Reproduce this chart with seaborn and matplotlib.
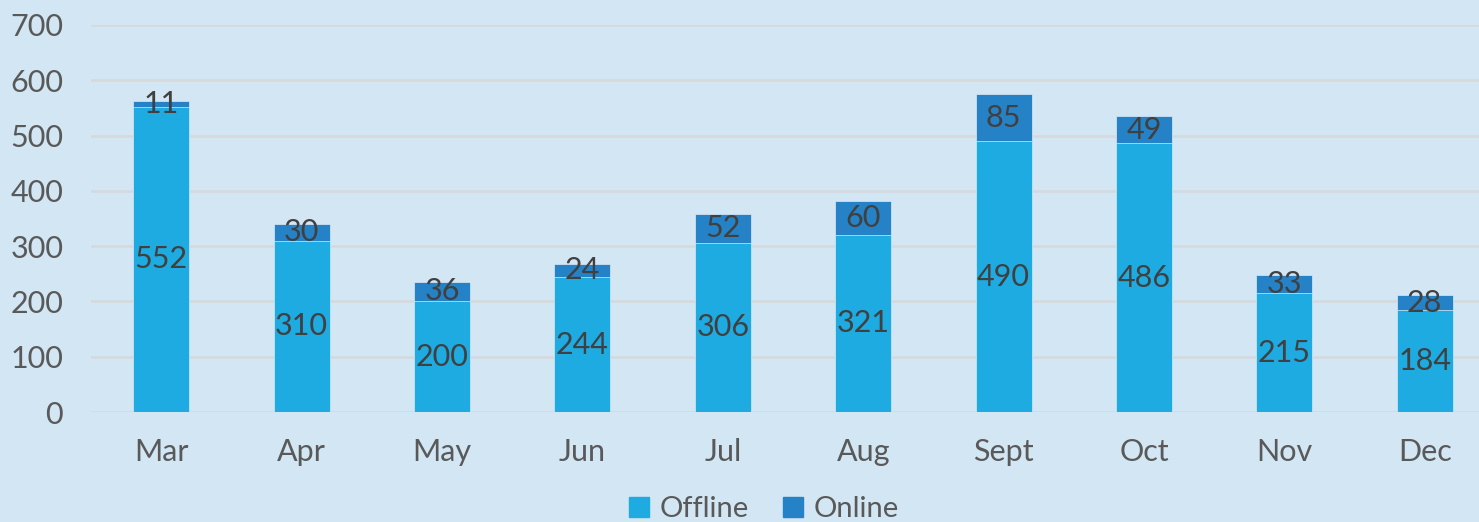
import matplotlib
matplotlib.use("Agg")
import matplotlib.pyplot as plt
import seaborn as sns
import pandas as pd
from matplotlib.lines import Line2D

months = ["Mar", "Apr", "May", "Jun", "Jul", "Aug", "Sept", "Oct", "Nov", "Dec"]
offline = [552, 310, 200, 244, 306, 321, 490, 486, 215, 184]
online = [11, 30, 36, 24, 52, 60, 85, 49, 33, 28]

C_OFF = "#1DABE2"
C_ON = "#2682C6"
BG = "#D3E6F4"

sns.set_theme(style="white")
plt.rcParams["font.family"] = ["Lato", "DejaVu Sans"]

df = pd.DataFrame({"month": months, "offline": offline, "online": online})
df["total"] = df["offline"] + df["online"]

fig = plt.figure(figsize=(14.79, 5.22), dpi=100, facecolor=BG)
ax = fig.add_axes([91 / 1479, 110 / 522, (1479 - 91) / 1479, 387 / 522])
ax.set_facecolor(BG)

sns.barplot(data=df, x="month", y="total", color=C_ON, saturation=1, width=0.4,
            edgecolor="#DCEBF6", linewidth=0.5, ax=ax, zorder=3)
sns.barplot(data=df, x="month", y="offline", color=C_OFF, saturation=1, width=0.4,
            edgecolor="#DCEBF6", linewidth=0.5, ax=ax, zorder=4)

for i, (off, on) in enumerate(zip(offline, online)):
    ax.text(i, off / 2, str(off), ha="center", va="center", fontsize=22, color="#404040", zorder=5)
    ax.text(i, off + on / 2, str(on), ha="center", va="center", fontsize=22, color="#404040", zorder=5)

ax.set_ylim(0, 700)
ax.set_xlim(-0.5, -0.5 + (1479 - 91) / 140.4)
ax.set_yticks(range(0, 701, 100))
ax.yaxis.grid(True, color="#D6D9DC", linewidth=1.8, zorder=0)
ax.set_axisbelow(True)
for s in ax.spines.values():
    s.set_visible(False)
ax.tick_params(axis="y", length=0, pad=20, labelsize=22, labelcolor="#595959")
ax.tick_params(axis="x", length=0, pad=19, labelsize=22, labelcolor="#595959")
ax.set_xlabel("")
ax.set_ylabel("")

handles = [Line2D([], [], marker="s", linestyle="", markersize=15, color=C_OFF),
           Line2D([], [], marker="s", linestyle="", markersize=15, color=C_ON)]
fig.legend(handles, ["Offline", "Online"], loc="lower center", ncol=2, frameon=False,
           fontsize=21, labelcolor="#595959", bbox_to_anchor=(0.515, -0.04),
           handletextpad=0.2, columnspacing=1.0, handlelength=1.0,
           borderpad=0.2)

fig.savefig("out.png", dpi=100, facecolor=BG)
